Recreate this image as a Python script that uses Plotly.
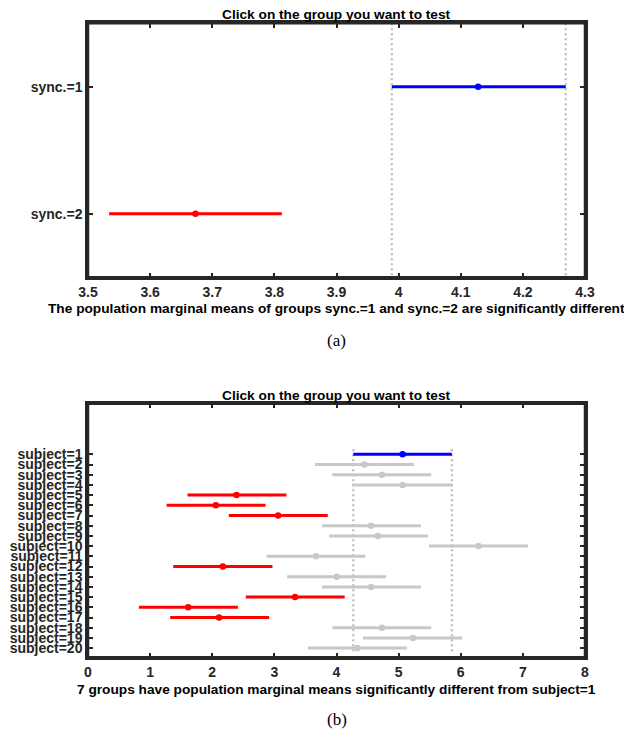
import plotly.graph_objects as go

# ---- Panel (a) data ----
sync_labels = ["sync.=1", "sync.=2"]
sync_mean = [4.128, 3.673]
sync_lo = [3.989, 3.534]
sync_hi = [4.269, 3.812]
sync_color = ["blue", "red"]
sync_xticks = [3.5, 3.6, 3.7, 3.8, 3.9, 4.0, 4.1, 4.2, 4.3]
sync_xticktext = ["3.5", "3.6", "3.7", "3.8", "3.9", "4", "4.1", "4.2", "4.3"]

# ---- Panel (b) data ----
subj_labels = ["subject=%d" % i for i in range(1, 21)]
subj_mean = [5.064, 4.449, 4.731, 5.064, 2.390, 2.058, 3.060, 4.555, 4.667, 6.286,
             3.671, 2.170, 4.003, 4.555, 3.333, 1.613, 2.110, 4.731, 5.230, 4.336]
subj_lo = [4.270, 3.655, 3.934, 4.250, 1.602, 1.265, 2.267, 3.767, 3.880, 5.488,
           2.873, 1.372, 3.205, 3.767, 2.540, 0.820, 1.323, 3.934, 4.426, 3.542]
subj_hi = [5.857, 5.246, 5.525, 5.873, 3.194, 2.857, 3.859, 5.359, 5.470, 7.085,
           4.464, 2.969, 4.800, 5.359, 4.132, 2.412, 2.916, 5.525, 6.024, 5.133]
subj_color = ["blue", "gray", "gray", "gray", "red", "red", "red", "gray", "gray", "gray",
              "gray", "red", "gray", "gray", "red", "red", "red", "gray", "gray", "gray"]
subj_xticks = [0, 1, 2, 3, 4, 5, 6, 7, 8]

COLORS = {"blue": "#0000ff", "red": "#ff0000", "gray": "#c8c8c8"}
AXC = "#262626"
FONT = "Liberation Sans, Arial, sans-serif"

fig = go.Figure()


def add_panel(fig, xa, ya, labels, means, los, his, colors, sel):
    n = len(labels)
    ys = list(range(1, n + 1))
    # dotted reference lines at selected group's CI
    for xv in (los[sel], his[sel]):
        fig.add_trace(go.Scatter(x=[xv, xv], y=[0.5, n + 0.5], mode="lines",
                                 line=dict(color="#bababa", width=2.2, dash="2px,3px"),
                                 xaxis=xa, yaxis=ya, hoverinfo="skip", showlegend=False))
    order = [i for i in range(n) if colors[i] == "gray"] + \
            [i for i in range(n) if colors[i] == "red"] + \
            [i for i in range(n) if colors[i] == "blue"]
    for i in order:
        c = COLORS[colors[i]]
        fig.add_trace(go.Scatter(x=[los[i], his[i]], y=[ys[i], ys[i]], mode="lines",
                                 line=dict(color=c, width=3),
                                 xaxis=xa, yaxis=ya, hoverinfo="skip", showlegend=False))
        fig.add_trace(go.Scatter(x=[means[i]], y=[ys[i]], mode="markers",
                                 marker=dict(color=c, size=6.5),
                                 xaxis=xa, yaxis=ya, showlegend=False))


add_panel(fig, "x", "y", sync_labels, sync_mean, sync_lo, sync_hi, sync_color, 0)
add_panel(fig, "x2", "y2", subj_labels, subj_mean, subj_lo, subj_hi, subj_color, 0)

# page has an 8px body margin; figure occupies the rest of the window
OFF = 8
W, H = 632 - OFF, 736 - OFF


def pxx(px):
    return (px - OFF) / W


def py(px):
    return 1 - (px - OFF) / H


axis_common = dict(showline=True, linecolor=AXC, linewidth=2.5, mirror="allticks",
                   ticks="inside", ticklen=5, tickwidth=2, tickcolor=AXC,
                   showgrid=False, zeroline=False, automargin=False, layer="above traces",
                   tickfont=dict(family=FONT, size=14, color=AXC, weight="bold"))

fig.update_layout(
    template="none",
    width=W, height=H, autosize=False,
    margin=dict(l=0, r=0, t=0, b=0, pad=0),
    paper_bgcolor="white", plot_bgcolor="white",
    xaxis=dict(domain=[pxx(88), pxx(585)], range=[3.5, 4.3],
               tickvals=sync_xticks, ticktext=sync_xticktext, anchor="y", **axis_common),
    yaxis=dict(domain=[py(277.3), py(23.3)], range=[2.5, 0.5],
               tickvals=[1, 2], ticktext=sync_labels, anchor="x", **axis_common),
    xaxis2=dict(domain=[pxx(88), pxx(585)], range=[0, 8],
                tickvals=subj_xticks, anchor="y2", **axis_common),
    yaxis2=dict(domain=[py(657.3), py(403.7)], range=[20.9, -3.96],
                tickvals=list(range(1, 21)), ticktext=subj_labels, anchor="x2", **axis_common),
)

# explicit box frames around both axes
for xa, ya in (("x", "y"), ("x2", "y2")):
    fig.add_shape(type="rect", xref=xa + " domain", yref=ya + " domain",
                  x0=0, x1=1, y0=0, y1=1, line=dict(color=AXC, width=2.5), layer="above")

cx = pxx((88 + 585) / 2)
ann_font = dict(family=FONT, size=13.7, color="black", weight="bold")
serif = dict(family="Liberation Serif, Times New Roman, serif", size=17, color="black")
texts = [
    ("Click on the group you want to test", 15, ann_font),
    ("The population marginal means of groups sync.=1 and sync.=2 are significantly different", 308.5, ann_font),
    ("(a)", 341, serif),
    ("Click on the group you want to test", 395, ann_font),
    ("7 groups have population marginal means significantly different from subject=1", 689, ann_font),
    ("(b)", 719, serif),
]
for t, y, f in texts:
    fig.add_annotation(text=t, x=cx, y=py(y), xref="paper", yref="paper",
                       xanchor="center", yanchor="middle", showarrow=False, font=f)

fig.write_html("out.html")
